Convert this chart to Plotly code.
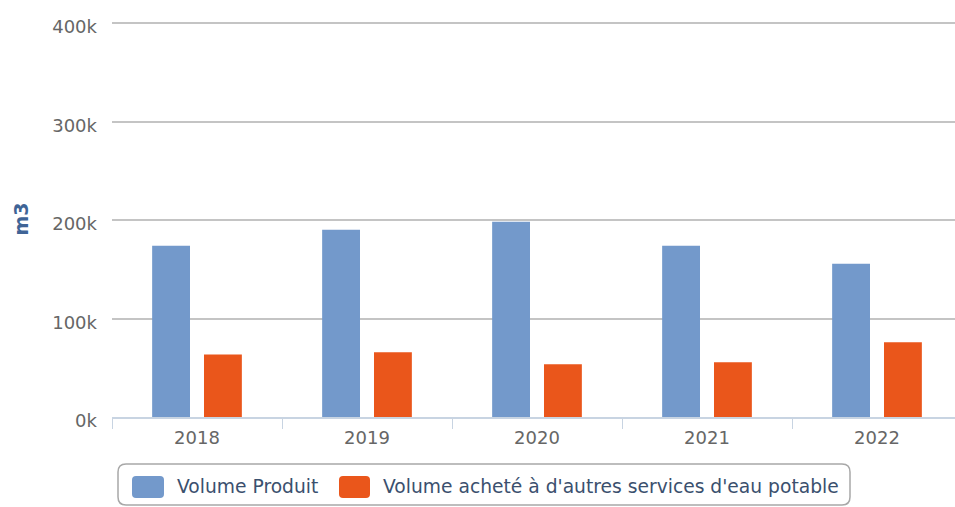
import plotly.graph_objects as go

years = ["2018", "2019", "2020", "2021", "2022"]
volume_produit = [173800, 190100, 198300, 173800, 155500]
volume_achete = [63500, 65800, 53600, 55600, 76000]
y_ticks = [0, 100000, 200000, 300000, 400000]
y_tick_labels = ["0k", "100k", "200k", "300k", "400k"]
series_names = ["Volume Produit", "Volume acheté à d'autres services d'eau potable"]

BLUE = "#7399CB"
ORANGE = "#EA561B"
FONT = "DejaVu Sans"

W, H = 955, 507
L, T, B = 112, 21, 90
PW, PH = W - L, H - T - B
Y_MAX = 400000 * PH / 394  # laisse la grille 400k visible en haut


def px(x):
    return (x - L) / PW


def py(y):
    return (H - B - y) / PH


def rounded(x0, y0, x1, y1, r):
    # rectangle arrondi en coordonnées paper, à partir de pixels
    rx, ry = r / PW, r / PH
    a, b, c, d = px(x0), py(y0), px(x1), py(y1)
    return (f"M{a + rx},{b} L{c - rx},{b} Q{c},{b} {c},{b - ry} "
            f"L{c},{d + ry} Q{c},{d} {c - rx},{d} L{a + rx},{d} "
            f"Q{a},{d} {a},{d + ry} L{a},{b - ry} Q{a},{b} {a + rx},{b} Z")


fig = go.Figure()
fig.add_trace(go.Bar(x=years, y=volume_produit, name=series_names[0],
                     marker=dict(color=BLUE, line_width=0)))
fig.add_trace(go.Bar(x=years, y=volume_achete, name=series_names[1],
                     marker=dict(color=ORANGE, line_width=0)))

# légende dessinée à la main (cadre arrondi + pastilles)
shapes = [
    dict(type="path", xref="paper", yref="paper", path=rounded(118, 464, 850, 505, 8),
         line=dict(color="#a8a8a8", width=1.5), fillcolor="white"),
    dict(type="path", xref="paper", yref="paper", path=rounded(132, 476, 164, 498, 4),
         line_width=0, fillcolor=BLUE),
    dict(type="path", xref="paper", yref="paper", path=rounded(339, 476, 370, 498, 4),
         line_width=0, fillcolor=ORANGE),
]
annotations = [
    dict(x=px(175), y=py(487), xref="paper", yref="paper", text=series_names[0],
         showarrow=False, xanchor="left", yanchor="middle",
         font=dict(family=FONT, size=18.7, color="#3b506e")),
    dict(x=px(381), y=py(487), xref="paper", yref="paper", text=series_names[1],
         showarrow=False, xanchor="left", yanchor="middle",
         font=dict(family=FONT, size=18.7, color="#3b506e")),
]

fig.update_layout(
    width=W, height=H,
    margin=dict(l=L, r=0, t=T, b=B),
    paper_bgcolor="white", plot_bgcolor="white",
    barmode="group", bargap=0.39, bargroupgap=0.27,
    showlegend=False,
    shapes=shapes, annotations=annotations,
    font=dict(family=FONT, color="#666666"),
    xaxis=dict(
        range=[-0.5, -0.5 + PW / 170],
        tickson="boundaries", ticks="outside", ticklen=10, tickcolor="#c8d4e2",
        tickfont=dict(size=18, color="#666666"),
        ticklabelstandoff=4,
        showline=True, linecolor="#c8d4e2", linewidth=1.5,
        showgrid=False, zeroline=False,
    ),
    yaxis=dict(
        range=[0, Y_MAX],
        tickvals=y_ticks, ticktext=y_tick_labels,
        tickfont=dict(size=18, color="#666666"),
        ticklabelstandoff=14, ticklabelshift=4,
        showgrid=True, gridcolor="#c4c4c4", gridwidth=1.5,
        zeroline=False, showline=False,
        title=dict(text="<b>m3</b>", font=dict(size=19, color="#3f6496"), standoff=18),
    ),
)

fig.write_html(
    "out.html",
    config={"displayModeBar": False},
    post_script="document.body.style.margin='0';document.body.style.overflow='hidden';",
)
